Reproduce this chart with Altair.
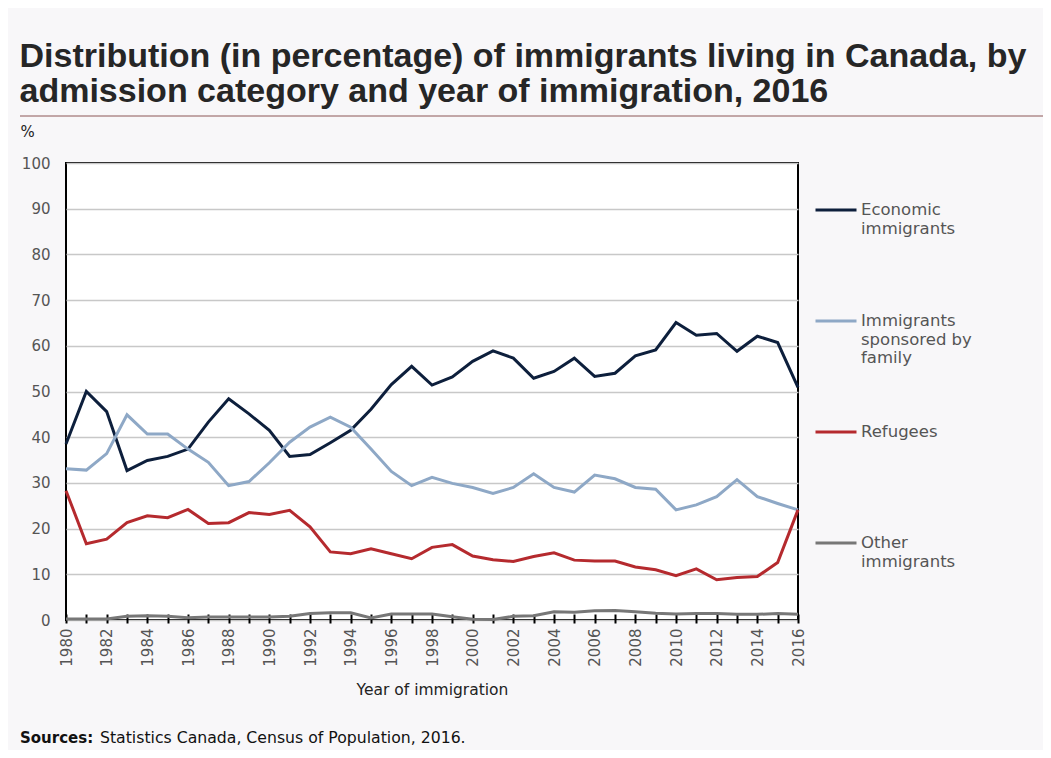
import altair as alt
import pandas as pd

# ---------------- data ----------------
years = list(range(1980, 2017))

economic = [38.5, 50.0, 45.6, 32.7, 34.9, 35.8, 37.4, 43.3, 48.4, 45.1,
            41.5, 35.8, 36.2, 38.8, 41.5, 46.1, 51.5, 55.5, 51.4, 53.2,
            56.6, 58.9, 57.3, 52.9, 54.4, 57.3, 53.3, 54.0, 57.8, 59.1,
            65.1, 62.3, 62.7, 58.8, 62.1, 60.7, 50.9]

family = [33.1, 32.8, 36.4, 44.9, 40.7, 40.7, 37.4, 34.5, 29.4, 30.3,
          34.4, 38.9, 42.2, 44.4, 42.2, 37.4, 32.5, 29.4, 31.2, 29.9,
          29.0, 27.7, 29.0, 32.0, 29.0, 28.0, 31.7, 30.9, 29.0, 28.6,
          24.1, 25.2, 27.0, 30.7, 27.0, 25.5, 24.1]

refugees = [28.3, 16.7, 17.7, 21.3, 22.8, 22.4, 24.2, 21.1, 21.3, 23.5,
            23.1, 24.0, 20.4, 14.9, 14.5, 15.6, 14.5, 13.4, 15.9, 16.5,
            14.0, 13.2, 12.8, 13.9, 14.7, 13.1, 12.9, 12.9, 11.6, 11.0,
            9.7, 11.2, 8.8, 9.3, 9.5, 12.6, 24.1]

other = [0.2, 0.2, 0.2, 0.8, 0.95, 0.8, 0.5, 0.65, 0.65, 0.65,
         0.65, 0.8, 1.4, 1.6, 1.6, 0.45, 1.3, 1.3, 1.3, 0.7,
         0.15, 0.1, 0.8, 0.95, 1.8, 1.7, 2.0, 2.1, 1.8, 1.5,
         1.3, 1.4, 1.4, 1.25, 1.25, 1.4, 1.25]

series_names = ["Economic immigrants", "Immigrants sponsored by family",
                "Refugees", "Other immigrants"]
series_values = [economic, family, refugees, other]
series_colors = ["#0d1f3c", "#8ea8c6", "#b52a2e", "#777777"]
legend_lines = [["Economic", "immigrants"],
                ["Immigrants", "sponsored by", "family"],
                ["Refugees"],
                ["Other", "immigrants"]]

y_ticks = list(range(0, 101, 10))

title_lines = ["Distribution (in percentage) of immigrants living in Canada, by",
               "admission category and year of immigration, 2016"]
x_title = "Year of immigration"
y_title = "%"
source_bold = "Sources:"
source_text = "Statistics Canada, Census of Population, 2016."

# ---------------- build table ----------------
rows = []
for name, vals in zip(series_names, series_values):
    for yr, v in zip(years, vals):
        rows.append({"year": yr, "value": v, "series": name})
df = pd.DataFrame(rows)

label_expr = ""
for name, lines in zip(series_names, legend_lines):
    arr = "[" + ",".join("'" + l + "'" for l in lines) + "]"
    label_expr += f"datum.label == '{name}' ? {arr} : "
label_expr += "datum.label"

FONT = "DejaVu Sans"

lines = alt.Chart(df).mark_line(strokeWidth=3).encode(
    x=alt.X("year:Q",
            scale=alt.Scale(domain=[years[0], years[-1]], nice=False, zero=False),
            axis=alt.Axis(values=years, format="d",
                          labelExpr="datum.value % 2 == 0 ? datum.label : ''",
                          labelAngle=270, labelAlign="right", labelBaseline="middle",
                          labelFont=FONT, labelFontSize=15, labelColor="#555555",
                          labelPadding=5, labelOverlap=False,
                          tickSize=9, tickColor="#000000", tickWidth=2, offset=-6,
                          domain=False, grid=False,
                          title=x_title, titleFont=FONT, titleFontSize=15.5,
                          titleFontWeight="normal", titleColor="#222222",
                          titlePadding=16)),
    y=alt.Y("value:Q",
            scale=alt.Scale(domain=[0, 100], nice=False),
            axis=alt.Axis(values=y_ticks, domain=False, ticks=False,
                          labelFont=FONT, labelFontSize=15, labelColor="#555555",
                          labelPadding=16,
                          grid=True, gridColor="#c8c8c8", gridWidth=1.5,
                          title=y_title, titleAngle=0, titleX=-46, titleY=-27,
                          titleAlign="left", titleBaseline="alphabetic",
                          titleFont=FONT, titleFontSize=15, titleFontWeight="normal",
                          titleColor="#222222")),
    color=alt.Color("series:N",
                    scale=alt.Scale(domain=series_names, range=series_colors),
                    legend=alt.Legend(title=None, orient="none", legendX=748, legendY=25,
                                      symbolType="stroke", symbolSize=1681,
                                      symbolStrokeWidth=3, labelOffset=3,
                                      labelFont=FONT, labelFontSize=16.5,
                                      labelColor="#555555", labelLimit=0,
                                      labelBaseline="middle",
                                      labelExpr=label_expr, gridAlign="all",
                                      rowPadding=43, padding=0)),
)

rule = alt.Chart(pd.DataFrame({"k": [0]})).mark_rule(color="#8c5656", strokeWidth=1).encode(
    x=alt.value(-46), x2=alt.value(985), y=alt.value(-47))

src1 = alt.Chart(pd.DataFrame({"t": [source_bold]})).mark_text(
    font=FONT, fontSize=15, fontWeight="bold", color="#111111",
    align="left", baseline="alphabetic").encode(
    text="t:N", x=alt.value(-46), y=alt.value(580))

src2 = alt.Chart(pd.DataFrame({"t": [source_text]})).mark_text(
    font=FONT, fontSize=15.7, color="#111111",
    align="left", baseline="alphabetic").encode(
    text="t:N", x=alt.value(34), y=alt.value(580))

chart = alt.layer(lines, rule, src1, src2).properties(
    width=732, height=457,
    autosize=alt.AutoSizeParams(type="none"),
    padding={"left": 58, "top": 155, "right": 245, "bottom": 130},
    background="#f8f7f9",
    title=alt.TitleParams(text=title_lines, anchor="start", dx=0, offset=7,
                          font="Liberation Sans", fontSize=34, fontWeight="bold",
                          color="#262626", lineHeight=35),
).configure_view(stroke="#000000", strokeWidth=2, fill="#ffffff")

chart.save("out.html", embed_options={"renderer": "svg", "actions": False})
